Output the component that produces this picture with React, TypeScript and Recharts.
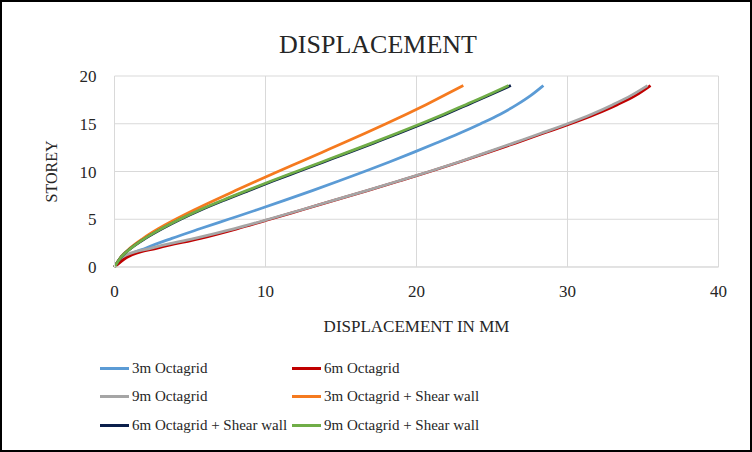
import React from "react";
import { LineChart, Line, XAxis, YAxis, CartesianGrid } from "recharts";

// storey levels (y) and lateral displacement in mm (x) for each model
const storeys = [0, 1, 2, 3, 4, 5, 6, 7, 8, 9, 10, 11, 12, 13, 14, 15, 16, 17, 18, 19];

const oct3 = [0, 0.7, 2.1, 3.8, 5.65, 7.55, 9.45, 11.3, 13.1, 14.85, 16.55, 18.2, 19.8, 21.35, 22.85, 24.25, 25.55, 26.65, 27.6, 28.4];
const oct6 = [0, 0.8, 2.9, 5.7, 8.1, 10.3, 12.45, 14.6, 16.75, 18.85, 20.9, 22.85, 24.75, 26.6, 28.4, 30.2, 31.85, 33.3, 34.55, 35.5];
const oct9 = [0, 0.45, 2.5, 5.3, 7.9, 10.2, 12.4, 14.55, 16.7, 18.8, 20.85, 22.8, 24.65, 26.45, 28.25, 30.0, 31.6, 33.0, 34.25, 35.3];
const oct3Sw = [0, 0.4, 1.05, 1.9, 2.9, 4.05, 5.3, 6.63, 8.01, 9.41, 10.83, 12.28, 13.73, 15.18, 16.6, 17.98, 19.33, 20.63, 21.88, 23.1];
const oct6Sw = [0, 0.42, 1.12, 2.05, 3.15, 4.38, 5.75, 7.27, 8.87, 10.5, 12.18, 13.86, 15.54, 17.2, 18.84, 20.42, 21.94, 23.4, 24.85, 26.25];
const oct9Sw = [0, 0.42, 1.12, 2.02, 3.1, 4.32, 5.67, 7.17, 8.75, 10.38, 12.05, 13.73, 15.41, 17.07, 18.7, 20.28, 21.8, 23.26, 24.72, 26.1];

const xTicks = [0, 10, 20, 30, 40];
const yTicks = [0, 5, 10, 15, 20];

const series = [
  { name: "3m Octagrid", values: oct3, color: "#5B9BD5" },
  { name: "6m Octagrid", values: oct6, color: "#C00000" },
  { name: "9m Octagrid", values: oct9, color: "#A5A5A5" },
  { name: "3m Octagrid + Shear wall", values: oct3Sw, color: "#F57A1F" },
  { name: "6m Octagrid + Shear wall", values: oct6Sw, color: "#0B1F4B" },
  { name: "9m Octagrid + Shear wall", values: oct9Sw, color: "#70AD47" },
];

const font = '"Liberation Serif", "DejaVu Serif", serif';
const textColor = "#262626";

export default function App() {
  return (
    <div
      style={{
        position: "absolute",
        left: 0,
        top: 0,
        width: 752,
        height: 452,
        boxSizing: "border-box",
        border: "2px solid #000",
        background: "#fff",
        fontFamily: font,
        color: textColor,
      }}
    >
      <div
        style={{
          position: "absolute",
          left: 0,
          width: 748,
          top: 30,
          textAlign: "center",
          fontSize: 26,
          lineHeight: "26px",
          paddingLeft: 4,
          boxSizing: "border-box",
        }}
      >
        DISPLACEMENT
      </div>
      <LineChart
        width={748}
        height={448}
        margin={{ top: 74, right: 31.5, left: 32.5, bottom: 113 }}
        style={{ position: "absolute", left: 0, top: 0, fontFamily: font }}
      >
        <CartesianGrid stroke="#D9D9D9" strokeWidth={1} />
        <XAxis
          type="number"
          dataKey="d"
          domain={[0, 40]}
          ticks={xTicks}
          tickLine={false}
          axisLine={{ stroke: "#D9D9D9" }}
          tickMargin={12}
          height={70}
          tick={{ fontSize: 17, fill: textColor, fontFamily: font }}
          label={{
            value: "DISPLACEMENT IN MM",
            position: "insideBottom",
            offset: 5,
            style: { fontSize: 17, fill: textColor, fontFamily: font },
          }}
        />
        <YAxis
          type="number"
          domain={[0, 20]}
          ticks={yTicks}
          tickLine={false}
          axisLine={{ stroke: "#D9D9D9" }}
          tickMargin={12}
          width={80}
          tick={{ fontSize: 17, fill: textColor, fontFamily: font }}
          label={{
            value: "STOREY",
            angle: -90,
            position: "insideLeft",
            offset: 17,
            style: { fontSize: 16, fill: textColor, textAnchor: "middle", fontFamily: font },
          }}
        />
        {series.map((s) => (
          <Line
            key={s.name}
            data={s.values.map((d, i) => ({ d, s: storeys[i] }))}
            dataKey="s"
            name={s.name}
            type="monotone"
            stroke={s.color}
            strokeWidth={2.75}
            dot={false}
            isAnimationActive={false}
          />
        ))}
      </LineChart>
      {series.map((s, i) => {
        const col = i % 2;
        const row = Math.floor(i / 2);
        return (
          <div
            key={s.name}
            style={{
              position: "absolute",
              left: col === 0 ? 98 : 290,
              top: 356 + row * 28.6,
              height: 20,
              display: "flex",
              alignItems: "center",
              fontSize: 15,
              whiteSpace: "nowrap",
            }}
          >
            <span style={{ display: "inline-block", width: 29, height: 3, background: s.color, marginRight: 3 }} />
            {s.name}
          </div>
        );
      })}
    </div>
  );
}
